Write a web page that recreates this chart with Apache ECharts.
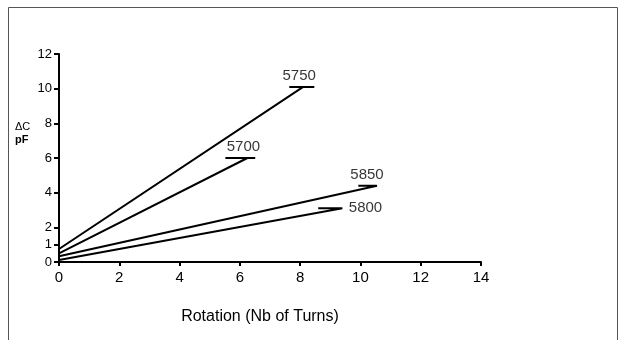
<!DOCTYPE html>
<html><head><meta charset="utf-8">
<script src="https://cdn.jsdelivr.net/npm/echarts@6/dist/echarts.min.js"></script>
<style>html,body{margin:0;padding:0;background:#fff}#c{width:621px;height:340px}</style>
</head><body><div id="c"></div>
<script>
// Data
const seriesNames = ['5750', '5700', '5850', '5800'];
const startY = [0.75, 0.5, 0.33, 0.12];   // ΔC at 0 turns
const endX = [8.1, 6.25, 10.55, 9.4];     // turns at line end
const endY = [10.1, 6.0, 4.4, 3.1];       // ΔC at line end
const flatFrom = [7.64, 5.52, 9.93, 8.6]; // short flat marker at line end
const flatTo = [8.47, 6.51, 10.56, 9.43];
const xTicks = [0, 2, 4, 6, 8, 10, 12, 14];
const yTicks = [0, 1, 2, 4, 6, 8, 10, 12];

const font = 'Liberation Sans, Arial, Helvetica, sans-serif';
const labelPos = ['top', 'top', 'top', 'right'];
const labelOffset = [[-4, 0], [-4, 0], [-10, 0], [0, 0]];
const chart = echarts.init(document.getElementById('c'), null, {renderer: 'canvas'});

const series = [];
seriesNames.forEach((n, i) => {
  series.push({
    name: n, type: 'line', symbol: 'none', silent: true,
    lineStyle: {color: '#000', width: 2},
    data: [[0, startY[i]], [endX[i], endY[i]], [flatTo[i], endY[i]], [flatFrom[i], endY[i]]],
    z: 3
  });
});
series.push({
  type: 'scatter', symbolSize: 1, itemStyle: {color: 'rgba(0,0,0,0)'},
  data: seriesNames.map((n, i) => ({
    value: [endX[i], endY[i]], name: n,
    label: {show: true, formatter: n, position: labelPos[i], offset: labelOffset[i],
      distance: labelPos[i] === 'right' ? 6 : 3,
      color: '#000', fontSize: 15, fontFamily: font}
  }))
});

chart.setOption({
  animation: false,
  backgroundColor: '#fff',
  grid: {left: 59, right: 140, top: 54, bottom: 78},
  xAxis: {
    type: 'value', min: 0, max: 14, interval: 2,
    name: 'Rotation (Nb of Turns)', nameLocation: 'middle', nameGap: 47,
    nameTextStyle: {color: '#000', fontSize: 16, fontFamily: font, padding: [0, 20, 0, 0]},
    axisLine: {lineStyle: {color: '#000', width: 2}},
    axisTick: {show: true, length: 4, lineStyle: {color: '#000', width: 2}},
    axisLabel: {color: '#000', fontSize: 15, fontFamily: font, margin: 8},
    splitLine: {show: false}
  },
  yAxis: {
    type: 'value', min: 0, max: 12,
    axisLine: {lineStyle: {color: '#000', width: 2}},
    axisTick: {show: true, length: 5, customValues: yTicks, lineStyle: {color: '#000', width: 2}},
    axisLabel: {color: '#000', fontSize: 13, fontFamily: font, margin: 7, customValues: yTicks},
    splitLine: {show: false}
  },
  graphic: [
    {type: 'rect', shape: {x: 8.5, y: 7.5, width: 609, height: 340}, style: {fill: 'none', stroke: '#555', lineWidth: 1}, silent: true},
    {type: 'text', left: 15, top: 121, style: {text: 'ΔC', fill: '#000', font: '11px ' + font}},
    {type: 'text', left: 15, top: 134, style: {text: 'pF', fill: '#000', font: 'bold 11px ' + font}}
  ],
  series: series
});
</script></body></html>
